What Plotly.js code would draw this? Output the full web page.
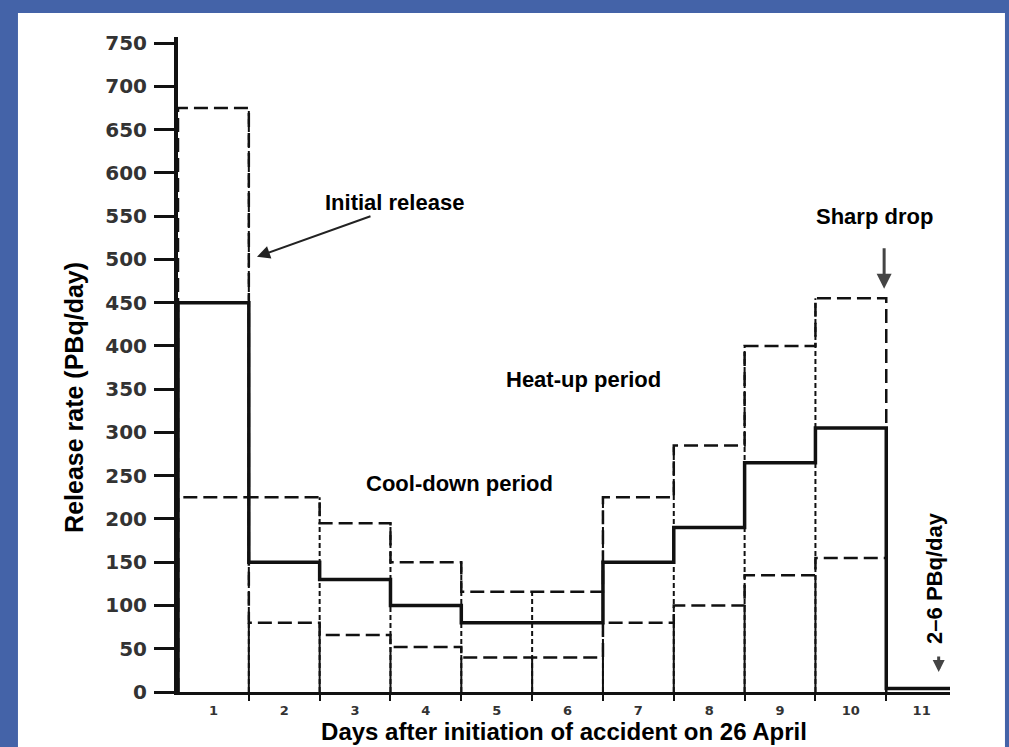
<!DOCTYPE html>
<html>
<head>
<meta charset="utf-8">
<script src="https://cdn.plot.ly/plotly-3.0.1.min.js"></script>
<style>
  html, body { margin: 0; padding: 0; background: #4463a8; }
  #chart { width: 1009px; height: 747px; }
</style>
</head>
<body>
<div id="chart"></div>
<script>
// ---- data ----
const days = [1, 2, 3, 4, 5, 6, 7, 8, 9, 10, 11];
const dayLabels = ["1", "2", "3", "4", "5", "6", "7", "8", "9", "10", "11"];
const centralRate = [450, 150, 130, 100, 80, 80, 150, 190, 265, 305, 4];
const upperRate = [675, 225, 195, 150, 116, 116, 225, 285, 400, 455];
const lowerRate = [225, 80, 66, 52, 40, 40, 80, 100, 135, 155];
const yTicks = [0, 50, 100, 150, 200, 250, 300, 350, 400, 450, 500, 550, 600, 650, 700, 750];

// ---- build step outlines from the data ----
function stepTrace(values, endAtZero) {
  const x = [days[0] - 0.5];
  const y = [0];
  values.forEach((v, i) => { x.push(days[i] - 0.5); y.push(v); });
  const lastDay = days[values.length - 1];
  x.push(lastDay + 0.5);
  y.push(endAtZero ? 0 : values[values.length - 1]);
  return { x, y };
}
const up = stepTrace(upperRate, true);
const lo = stepTrace(lowerRate, true);
const ce = stepTrace(centralRate, false);

// boundary verticals between days (bar outlines down to the axis)
const bSolidX = [], bSolidY = [], bDashX = [], bDashY = [];
for (let i = 0; i < upperRate.length - 1; i++) {
  const xb = days[i] + 0.5;
  bSolidX.push(xb, xb, null);
  bSolidY.push(0, Math.min(lowerRate[i], lowerRate[i + 1]), null);
  bDashX.push(xb, xb, null);
  bDashY.push(0, Math.max(upperRate[i], upperRate[i + 1]), null);
}
const minorTicks = days.slice(0, days.length - 1).map(d => d + 0.5);

const ink = '#111111';
const traces = [
  { x: bDashX, y: bDashY, mode: 'lines', line: { color: ink, width: 2, dash: '5px,3px' }, hoverinfo: 'skip', showlegend: false },
  { x: bSolidX, y: bSolidY, mode: 'lines', line: { color: ink, width: 2 }, hoverinfo: 'skip', showlegend: false },
  { x: lo.x, y: lo.y, mode: 'lines', line: { color: ink, width: 2.5, dash: '14px,6px', shape: 'hv' }, name: 'Lower bound', showlegend: false },
  { x: up.x, y: up.y, mode: 'lines', line: { color: ink, width: 2.5, dash: '14px,6px', shape: 'hv' }, name: 'Upper bound', showlegend: false },
  { x: ce.x, y: ce.y, mode: 'lines', line: { color: ink, width: 3.5, shape: 'hv' }, name: 'Release rate', showlegend: false }
];

const annFont = { family: 'Liberation Sans, Arial, sans-serif', size: 22, color: '#000' };
const layout = {
  width: 1009, height: 747,
  margin: { l: 178, r: 59, t: 37, b: 55, pad: 0 },
  paper_bgcolor: '#4463a8',
  plot_bgcolor: 'rgba(0,0,0,0)',
  showlegend: false,
  shapes: [
    { type: 'rect', xref: 'paper', yref: 'paper', x0: -0.2073, x1: 1.0712, y0: -0.084, y1: 1.0366,
      fillcolor: '#ffffff', line: { width: 0 }, layer: 'below' }
  ],
  xaxis: {
    range: [0.5, 11.4],
    tickmode: 'array', tickvals: days, ticktext: dayLabels,
    ticks: '', showgrid: false, zeroline: false,
    showline: true, linecolor: ink, linewidth: 3,
    tickfont: { family: 'DejaVu Sans, sans-serif', size: 13, color: '#333', weight: 'bold' },
    ticklabelstandoff: 4,
    minor: { tickmode: 'array', tickvals: minorTicks, ticks: 'outside', ticklen: 6, tickwidth: 2, tickcolor: ink, showgrid: false },
    title: { text: '<b>Days after initiation of accident on 26 April</b>', standoff: 7,
             font: { family: 'Liberation Sans, Arial, sans-serif', size: 24, color: '#000' } }
  },
  yaxis: {
    range: [0, 757],
    tickmode: 'array', tickvals: yTicks,
    ticks: 'outside', ticklen: 20, tickwidth: 3, tickcolor: ink,
    showgrid: false, zeroline: false,
    showline: true, linecolor: ink, linewidth: 4,
    tickfont: { family: 'DejaVu Sans, sans-serif', size: 20, color: '#333', weight: 'bold' },
    ticklabelstandoff: 3
  },
  annotations: [
    { x: -0.1347, y: 0.449, xref: 'paper', yref: 'paper', xanchor: 'center', yanchor: 'middle',
      text: '<b>Release rate (PBq/day)</b>', textangle: -90,
      showarrow: false, font: { family: 'Liberation Sans, Arial, sans-serif', size: 25, color: '#000' } },
    { x: 3.55, y: 566, xref: 'x', yref: 'y', text: '<b>Initial release</b>', showarrow: false, font: annFont },
    { x: 1.615, y: 503, xref: 'x', yref: 'y', text: '', showarrow: true, ax: 115, ay: -41,
      arrowhead: 2, arrowsize: 1.3, arrowwidth: 2, arrowcolor: '#222' },
    { x: 6.23, y: 361, xref: 'x', yref: 'y', text: '<b>Heat-up period</b>', showarrow: false, font: annFont },
    { x: 4.47, y: 241, xref: 'x', yref: 'y', text: '<b>Cool-down period</b>', showarrow: false, font: annFont },
    { x: 10.34, y: 549, xref: 'x', yref: 'y', text: '<b>Sharp drop</b>', showarrow: false, font: annFont },
    { x: 10.47, y: 466, xref: 'x', yref: 'y', text: '', showarrow: true, ax: 0, ay: -42,
      arrowhead: 2, arrowsize: 1, arrowwidth: 3, arrowcolor: '#444' },
    { x: 11.19, y: 132, xref: 'x', yref: 'y', text: '<b>2–6 PBq/day</b>', textangle: -90, showarrow: false, font: annFont },
    { x: 11.24, y: 23, xref: 'x', yref: 'y', text: '', showarrow: true, ax: 0, ay: -17,
      arrowhead: 2, arrowsize: 0.8, arrowwidth: 3, arrowcolor: '#444' }
  ]
};

Plotly.newPlot('chart', traces, layout, { displayModeBar: false, staticPlot: true });
</script>
</body>
</html>
